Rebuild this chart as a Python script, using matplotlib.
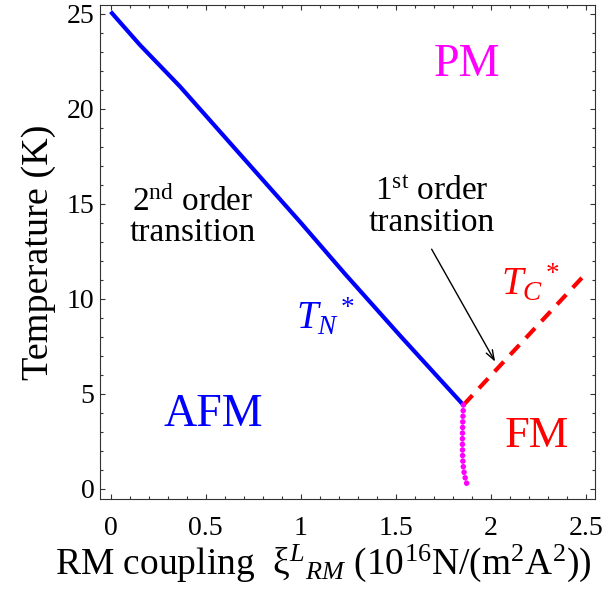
import numpy as np
import matplotlib
matplotlib.use("Agg")
import matplotlib.pyplot as plt

plt.rcParams['font.family'] = ['Liberation Serif', 'DejaVu Serif']
plt.rcParams['mathtext.fontset'] = 'custom'
plt.rcParams['mathtext.rm'] = 'Liberation Serif'
plt.rcParams['mathtext.it'] = 'Liberation Serif:italic'
plt.rcParams['mathtext.bf'] = 'Liberation Serif:bold'

# T_N* (2nd order line)
tn_x = [0.0, 0.154, 0.365, 0.645, 1.0, 1.233, 1.523, 1.856]
tn_y = [25.1, 23.35, 21.16, 18.0, 14.0, 11.3, 8.05, 4.4]

# T_C* (dashed)
tc_x = [1.856, 2.51]
tc_y = [4.4, 11.42]

# 1st order boundary (dotted, magenta)
fo_x = [1.856, 1.853, 1.851, 1.851, 1.852, 1.856, 1.862, 1.874]
fo_y = [4.4, 3.6, 2.8, 2.2, 1.6, 1.1, 0.7, 0.25]

xticks = [0, 0.5, 1, 1.5, 2, 2.5]
xtick_labels = ['0', '0.5', '1', '1.5', '2', '2.5']
yticks = [0, 5, 10, 15, 20, 25]


def __main():
    fig = plt.figure(figsize=(6.06, 5.89), dpi=100)
    ax = fig.add_axes([0.165, 0.153, 0.817, 0.8385])

    ax.plot(tn_x, tn_y, color='#0000ff', lw=3.0, solid_capstyle='butt')
    ax.plot(tc_x, tc_y, color='#ff0000', lw=3.0, linestyle=(0, (3.2, 2.3)))
    ax.plot(fo_x, fo_y, color='#ff00ff', lw=4.0, linestyle=(0, (0.01, 1.0)),
            dash_capstyle='round')

    ax.set_xlim(-0.056, 2.549)
    ax.set_ylim(-0.54, 25.45)
    ax.set_xticks(xticks)
    ax.set_xticklabels(xtick_labels)
    ax.set_yticks(yticks)
    ax.set_xticks(np.arange(0, 2.55, 0.1), minor=True)
    ax.set_yticks(np.arange(0, 26, 1), minor=True)
    ax.tick_params(which='both', direction='in', top=True, right=True,
                   color='#333333', width=0.8)
    ax.tick_params(which='major', length=3.5, labelsize=20)
    ax.tick_params(which='minor', length=2.5)
    ax.tick_params(axis='x', pad=12)
    ax.tick_params(axis='y', pad=4)
    for s in ax.spines.values():
        s.set_color('#333333')
        s.set_linewidth(0.8)

    ax.set_xlabel(r'RM coupling  $\mathrm{\xi}^{L}{}_{RM}$ (10$^{16}$N/(m$^2$A$^2$))',
                  fontsize=27)
    ax.xaxis.set_label_coords(0.45, -0.088)
    ax.set_ylabel('Temperature (K)', fontsize=27.5, labelpad=8)

    ax.text(0.43, 14.3, '2$^{\\rm nd}$ order\ntransition', fontsize=24,
            ha='center', va='center', linespacing=1.0)
    ax.text(1.69, 14.8, '1$^{\\rm st}$ order\ntransition', fontsize=24,
            ha='center', va='center', linespacing=1.0)
    ax.text(1.13, 9.0, r'$T_N{}^*$', fontsize=28, color='#0000ff',
            ha='center', va='center')
    ax.text(2.21, 10.8, r'$T_C{}^*$', fontsize=28, color='#ff0000',
            ha='center', va='center')
    ax.text(1.877, 22.3, 'PM', fontsize=33, color='#ff00ff',
            ha='center', va='center')
    ax.text(0.54, 3.9, 'AFM', fontsize=33, color='#0000ff',
            ha='center', va='center')
    ax.text(2.24, 2.75, 'FM', fontsize=32, color='#ff0000',
            ha='center', va='center')

    ax.annotate('', xy=(2.023, 6.68), xytext=(1.689, 12.6),
                arrowprops=dict(arrowstyle='->,head_length=0.7,head_width=0.25',
                                color='black', lw=1.0, shrinkA=0, shrinkB=0))

    fig.savefig('out.png', dpi=100)


if __name__ == "__main__":
    __main()
